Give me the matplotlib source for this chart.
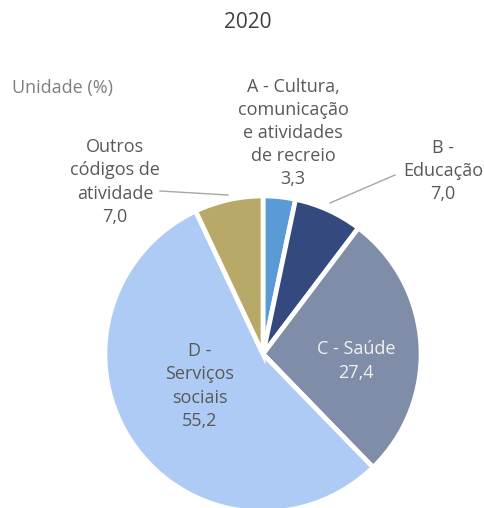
import matplotlib
matplotlib.use("Agg")
import matplotlib.pyplot as plt

categories = ["A - Cultura,\ncomunicação\ne atividades\nde recreio",
              "B -\nEducação",
              "C - Saúde",
              "D -\nServiços\nsociais",
              "Outros\ncódigos de\natividade"]
values = [3.3, 7.0, 27.4, 55.2, 7.0]
value_labels = ["3,3", "7,0", "27,4", "55,2", "7,0"]
colors = ["#5B9BD5", "#344A7E", "#7F8DA8", "#ADCBF5", "#B8A968"]

plt.rcParams['font.family'] = ['Open Sans', 'DejaVu Sans']

W, H = 485, 508
fig = plt.figure(figsize=(W / 100, H / 100), dpi=100)
ax = fig.add_axes([0, 0, 1, 1])

cx, cy, R = 263, H - 354, 158
wedges, _ = ax.pie(values, colors=colors, startangle=90, counterclock=False,
                   center=(cx, cy), radius=R, explode=[0.045] * 5,
                   wedgeprops=dict(edgecolor="white", linewidth=3.4))
ax.set_xlim(0, W)
ax.set_ylim(0, H)
ax.set_aspect("equal")
ax.axis("off")

tc = "#595959"
fs = 13
ls = 1.36

def label(x, y, text, color=tc):
    ax.text(x, H - y, text, ha="center", va="center", fontsize=fs,
            color=color, linespacing=ls)

label(293, 133, categories[0] + "\n" + value_labels[0])
label(443, 171, categories[1] + "\n" + value_labels[1])
label(356, 361, categories[2] + "\n" + value_labels[2], color="#F2F2F2")
label(200, 386, categories[3] + "\n" + value_labels[3])
label(115, 182, categories[4] + "\n" + value_labels[4])

# leader lines
ax.plot([395, 330], [H - 175, H - 203], color="#A6A6A6", lw=1)
ax.plot([160, 228], [H - 191, H - 195], color="#A6A6A6", lw=1)

ax.text(12, H - 88, "Unidade (%)", ha="left", va="center", fontsize=13,
        color="#7F7F7F")
ax.text(248, H - 22, "2020", ha="center", va="center", fontsize=15,
        color="#404040")

fig.savefig("out.png", dpi=100)
